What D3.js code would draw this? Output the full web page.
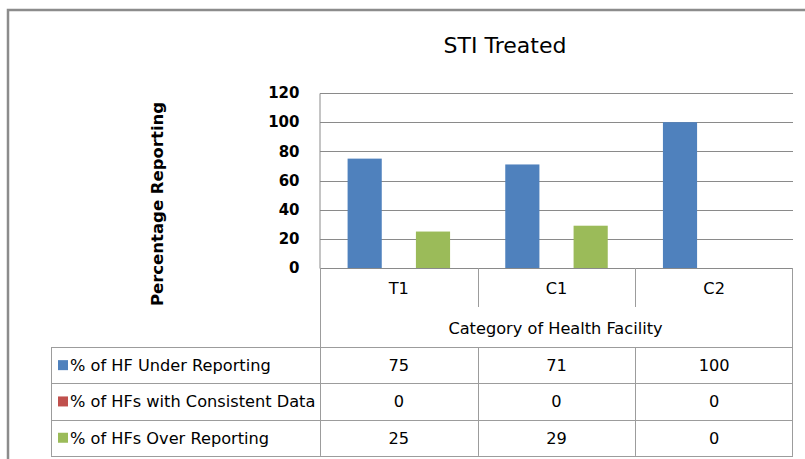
<!DOCTYPE html>
<meta charset="utf-8">
<style>
  body { margin: 0; background: #fff; }
  .grid line { stroke: #8a8a8a; stroke-width: 1; }
  .axis--y text { font-family: "DejaVu Sans", sans-serif; font-weight: bold; font-size: 15px; fill: #000; }
  .tbl { stroke: #9c9c9c; stroke-width: 1; fill: none; }
  .cell { font-family: "DejaVu Sans", sans-serif; font-size: 16.2px; fill: #000; }
</style>
<body></body>
<script src="https://cdnjs.cloudflare.com/ajax/libs/d3/7.8.5/d3.min.js"></script>
<script>
// data
var categories = ['T1', 'C1', 'C2'];
var seriesNames = ['% of HF Under Reporting', '% of HFs with Consistent Data', '% of HFs Over Reporting'];
var underReporting = [75, 71, 100];
var consistentData = [0, 0, 0];
var overReporting = [25, 29, 0];
var yTicks = [0, 20, 40, 60, 80, 100, 120];
var colors = ['#4f81bd', '#c0504d', '#9bbb59'];

var seriesValues = [underReporting, consistentData, overReporting];

var width = 805, height = 459;
var plot = { left: 320, right: 793, top: 93, bottom: 268 };

var svg = d3.select('body').append('svg')
    .attr('width', width)
    .attr('height', height);

// outer frame (runs off the picture right and bottom)
svg.append('rect')
    .attr('x', 8).attr('y', 10)
    .attr('width', 830).attr('height', 480)
    .attr('fill', 'none')
    .attr('stroke', '#8c8c8c')
    .attr('stroke-width', 2.5);

// title
svg.append('text')
    .attr('x', 505).attr('y', 53)
    .attr('text-anchor', 'middle')
    .style('font-family', '"DejaVu Sans", sans-serif')
    .style('font-size', '22px')
    .text('STI Treated');

var x0 = d3.scaleBand().domain(categories).range([plot.left, plot.right]).padding(0);
var bw = x0.bandwidth();
var x1 = d3.scaleBand().domain(d3.range(seriesNames.length)).range([bw * 0.175, bw * 0.825]);
var y = d3.scaleLinear().domain([0, 120]).range([plot.bottom, plot.top]);

// gridlines
svg.append('g').attr('class', 'grid')
    .selectAll('line')
    .data(yTicks)
    .enter().append('line')
    .attr('x1', plot.left).attr('x2', plot.right)
    .attr('y1', d => Math.round(y(d)) + 0.5)
    .attr('y2', d => Math.round(y(d)) + 0.5);

// y axis
var yAxis = svg.append('g')
    .attr('class', 'axis axis--y')
    .attr('transform', 'translate(' + (plot.left - 0.5) + ',0)')
    .call(d3.axisLeft(y).tickValues(yTicks).tickSize(0).tickPadding(20));
yAxis.select('.domain').attr('stroke', '#8a8a8a');

svg.append('text')
    .attr('transform', 'translate(163,204) rotate(-90)')
    .attr('text-anchor', 'middle')
    .style('font-family', '"DejaVu Sans", sans-serif')
    .style('font-weight', 'bold')
    .style('font-size', '16.5px')
    .text('Percentage Reporting');

// bars
var groups = svg.append('g').selectAll('g')
    .data(categories)
    .enter().append('g')
    .attr('transform', d => 'translate(' + x0(d) + ',0)');

groups.selectAll('rect')
    .data((d, i) => seriesValues.map((vals, s) => ({ s: s, v: vals[i] })))
    .enter().append('rect')
    .attr('x', d => x1(d.s))
    .attr('width', x1.bandwidth())
    .attr('y', d => y(d.v))
    .attr('height', d => plot.bottom - y(d.v))
    .attr('fill', d => colors[d.s]);

// category row + table
var rowTop = 347, rowH = 36.3, tblLeft = 51, tblRight = 792;
var g = svg.append('g');

g.append('line').attr('class', 'tbl')
    .attr('x1', plot.left + 0.5).attr('x2', plot.left + 0.5)
    .attr('y1', plot.bottom).attr('y2', rowTop + rowH * 3);
g.append('line').attr('class', 'tbl')
    .attr('x1', tblRight + 0.5).attr('x2', tblRight + 0.5)
    .attr('y1', plot.bottom).attr('y2', rowTop + rowH * 3);

categories.slice(1).forEach(function (c) {
    g.append('line').attr('class', 'tbl')
        .attr('x1', Math.round(x0(c)) + 0.5).attr('x2', Math.round(x0(c)) + 0.5)
        .attr('y1', plot.bottom).attr('y2', 307);
    g.append('line').attr('class', 'tbl')
        .attr('x1', Math.round(x0(c)) + 0.5).attr('x2', Math.round(x0(c)) + 0.5)
        .attr('y1', rowTop).attr('y2', rowTop + rowH * 3);
});

g.selectAll('.catlabel')
    .data(categories)
    .enter().append('text')
    .attr('class', 'cell catlabel')
    .attr('x', d => x0(d) + bw / 2)
    .attr('y', 294)
    .attr('text-anchor', 'middle')
    .text(d => d);

g.append('text')
    .attr('class', 'cell')
    .attr('x', (plot.left + plot.right) / 2 - 1)
    .attr('y', 334)
    .attr('text-anchor', 'middle')
    .text('Category of Health Facility');

d3.range(4).forEach(function (r) {
    g.append('line').attr('class', 'tbl')
        .attr('x1', tblLeft).attr('x2', tblRight + 1)
        .attr('y1', Math.round(rowTop + r * rowH) + 0.5)
        .attr('y2', Math.round(rowTop + r * rowH) + 0.5);
});
g.append('line').attr('class', 'tbl')
    .attr('x1', tblLeft + 0.5).attr('x2', tblLeft + 0.5)
    .attr('y1', rowTop).attr('y2', rowTop + rowH * 3);

var rows = g.selectAll('.row')
    .data(seriesNames)
    .enter().append('g')
    .attr('class', 'row')
    .attr('transform', (d, i) => 'translate(0,' + (rowTop + i * rowH) + ')');

rows.append('rect')
    .attr('x', 58).attr('y', rowH / 2 - 5)
    .attr('width', 10).attr('height', 10)
    .attr('fill', (d, i) => colors[i]);

rows.append('text')
    .attr('class', 'cell')
    .attr('x', 70).attr('y', rowH / 2 + 6)
    .text(d => d);

rows.each(function (d, i) {
    d3.select(this).selectAll('.val')
        .data(seriesValues[i])
        .enter().append('text')
        .attr('class', 'cell val')
        .attr('x', (v, j) => x0(categories[j]) + bw / 2)
        .attr('y', rowH / 2 + 6)
        .attr('text-anchor', 'middle')
        .text(v => v);
});
</script>
